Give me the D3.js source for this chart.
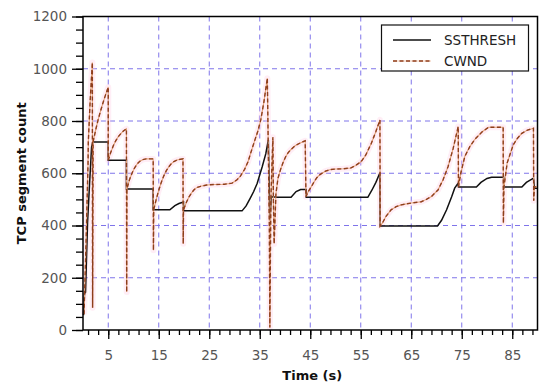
<!DOCTYPE html>
<html><head><meta charset="utf-8">
<script src="https://cdn.jsdelivr.net/npm/d3@7"></script>
<style>
html,body{margin:0;padding:0;background:#fff;}
text{font-family:"DejaVu Sans",sans-serif;}
</style></head>
<body><svg id="c" width="550" height="391"></svg>
<script>
// ---- data ----
const xTickLabels = [5,15,25,35,45,55,65,75,85];
const yTickLabels = [0,200,400,600,800,1000,1200];
const seriesNames = ["SSTHRESH","CWND"];

const ssT = [0.1,0.3,0.5,0.9,1.3,1.7,1.95,5.0,5.0,8.6,8.6,13.9,13.9,17.2,18.2,19.0,19.9,19.9,31.5,32.3,33.1,33.8,34.5,35.5,36.2,36.7,37.0,37.3,38.4,41.2,42.2,43.1,44.2,44.2,56.4,57.2,58.0,58.8,58.85,70.2,71.0,72.0,73.0,73.6,74.3,74.35,77.9,78.8,80.0,80.9,83.3,83.3,86.9,87.8,89.2,89.4,90.1];
const ssV = [57,140,145,410,560,700,720,720,650,650,540,540,460,460,476,484,490,456,456,475,504,530,562,626,675,728,420,510,508,508,530,538,538,508,508,535,565,602,398,398,420,460,510,543,562,547,547,565,580,585,585,547,547,565,581,543,543];

const cwT = [0.2,0.6,1.0,1.05,1.4,1.85,1.9,2.0,2.5,3.0,3.5,4.0,4.5,5.0,5.0,5.5,6.0,6.5,7.0,7.5,8.0,8.6,8.65,8.7,9.2,9.7,10.2,10.7,11.2,11.8,12.5,13.9,13.95,14.0,14.5,15.0,15.5,16.0,16.5,17.0,17.5,18.0,18.8,19.8,19.85,19.9,20.5,21.0,21.5,22.0,22.5,23.3,24.5,26.0,28.0,29.5,30.5,31.2,32.0,32.7,33.2,34.0,34.6,35.2,35.8,36.5,36.9,37.0,37.2,37.6,37.7,37.85,38.2,38.6,39.1,39.6,40.1,40.6,41.1,42.0,43.1,44.0,44.15,44.6,45.1,45.7,46.3,47.0,48.0,49.0,50.0,51.5,53.0,54.0,55.1,56.0,57.1,58.0,58.8,58.85,59.3,60.0,61.0,62.0,63.0,65.0,67.0,68.0,69.0,70.3,71.3,72.3,73.3,74.3,74.35,74.8,75.6,76.6,77.6,79.0,80.3,83.2,83.25,83.35,84.0,85.2,86.0,86.9,88.0,89.2,89.25,89.4,90.1];
const cwV = [60,330,640,720,870,1024,85,720,765,805,840,872,902,930,650,680,705,725,740,752,762,770,145,540,575,600,620,635,645,652,655,655,305,460,500,535,565,590,610,625,637,645,652,655,330,460,490,510,525,537,545,550,555,557,558,562,575,590,615,645,677,725,760,804,870,964,400,10,500,738,500,330,520,580,613,640,662,678,689,705,717,724,510,530,545,565,583,596,608,614,616,617,620,630,645,670,715,760,804,398,410,435,460,472,479,486,491,500,511,536,575,626,695,779,547,600,664,702,730,758,776,776,409,547,640,709,733,753,765,772,495,548,548];

// ---- layout ----
const svg = d3.select("#c");
const L = 83, R = 537.5, T = 16.5, B = 330;
const x = d3.scaleLinear().domain([0, 90]).range([L, R]);
const y = d3.scaleLinear().domain([0, 1200]).range([B, T]);

// grid
const gridCol = "#7f74ea";
const g = svg.append("g");
g.selectAll("line.gx").data(xTickLabels).join("line")
  .attr("x1", d => x(d)).attr("x2", d => x(d)).attr("y1", T).attr("y2", B)
  .attr("stroke", gridCol).attr("stroke-width", 1).attr("stroke-dasharray", "5,4");
g.selectAll("line.gy").data(yTickLabels.filter(d => d > 0 && d < 1200)).join("line")
  .attr("x1", L).attr("x2", R).attr("y1", d => y(d)).attr("y2", d => y(d))
  .attr("stroke", gridCol).attr("stroke-width", 1).attr("stroke-dasharray", "5,4");

// series
const ssData = ssT.map((t, i) => [t, ssV[i]]);
const cwData = cwT.map((t, i) => [t, cwV[i]]);
const line = d3.line().x(d => x(d[0])).y(d => y(d[1]));

svg.append("path").datum(cwData).attr("d", line)
  .attr("fill", "none").attr("stroke", "#ffc6e0").attr("stroke-width", 6)
  .attr("stroke-opacity", 0.3).attr("stroke-linejoin", "round");
svg.append("path").datum(ssData).attr("d", line)
  .attr("fill", "none").attr("stroke", "#111").attr("stroke-width", 1.5);
svg.append("path").datum(cwData).attr("d", line)
  .attr("fill", "none").attr("stroke", "#e2a27a").attr("stroke-width", 1.1);
svg.append("path").datum(cwData).attr("d", line)
  .attr("fill", "none").attr("stroke", "#8e3e1c").attr("stroke-width", 1.4)
  .attr("stroke-dasharray", "4,2.5");

// frame
svg.append("rect").attr("x", L).attr("y", T).attr("width", R - L).attr("height", B - T)
  .attr("fill", "none").attr("stroke", "#000").attr("stroke-width", 1.5);

// axes
const labCol = "#555";
const yMinor = d3.range(0, 1201, 50);
const yAxisMinor = d3.axisLeft(y).tickValues(yMinor).tickSize(7).tickFormat("");
const yAxisMajor = d3.axisLeft(y).tickValues(yTickLabels).tickSize(11).tickPadding(5).tickFormat(d3.format("d"));
[yAxisMinor, yAxisMajor].forEach(a => {
  const ga = svg.append("g").attr("transform", `translate(${L},0)`).call(a);
  ga.select(".domain").remove();
  ga.selectAll("line").attr("stroke", "#000").attr("stroke-width", 1.3);
  ga.selectAll("text").attr("fill", labCol).style("font-size", "13.5px").style("font-family", "DejaVu Sans");
});
const xMinor = d3.range(1, 90, 2);
const xAxisMinor = d3.axisBottom(x).tickValues(xMinor).tickSize(5).tickFormat("");
const xAxisMajor = d3.axisBottom(x).tickValues(xTickLabels).tickSize(9).tickPadding(11).tickFormat(d3.format("d"));
[xAxisMinor, xAxisMajor].forEach(a => {
  const ga = svg.append("g").attr("transform", `translate(0,${B})`).call(a);
  ga.select(".domain").remove();
  ga.selectAll("line").attr("stroke", "#000").attr("stroke-width", 1.3);
  ga.selectAll("text").attr("fill", labCol).style("font-size", "13.5px").style("font-family", "DejaVu Sans");
});

// axis titles
svg.append("text").attr("x", (L + R) / 2 + 2).attr("y", 380).attr("text-anchor", "middle")
  .style("font-size", "13px").style("font-weight", "bold").attr("fill", "#111").text("Time (s)");
svg.append("text").attr("transform", `translate(26,${(T + B) / 2}) rotate(-90)`).attr("text-anchor", "middle")
  .style("font-size", "13px").style("font-weight", "bold").attr("fill", "#111").text("TCP segment count");

// legend
const lg = svg.append("g");
lg.append("rect").attr("x", 381.5).attr("y", 25).attr("width", 147).attr("height", 46)
  .attr("fill", "#fff").attr("stroke", "#111").attr("stroke-width", 1.2);
const legY = [40, 61];
const legStyles = [{c: "#111", d: null, w: 1.3}, {c: "#8e3e1c", d: "4,2.5", w: 1.3}];
seriesNames.forEach((n, i) => {
  if (i === 1) {
    lg.append("line").attr("x1", 393).attr("x2", 431).attr("y1", legY[i]).attr("y2", legY[i])
      .attr("stroke", "#f2c8b0").attr("stroke-width", 1);
  }
  lg.append("line").attr("x1", 393).attr("x2", 431).attr("y1", legY[i]).attr("y2", legY[i])
    .attr("stroke", legStyles[i].c).attr("stroke-width", legStyles[i].w)
    .attr("stroke-dasharray", legStyles[i].d);
  lg.append("text").attr("x", 444).attr("y", legY[i] + 5).style("font-size", "13.5px")
    .attr("fill", "#222").text(n);
});
</script></body></html>
